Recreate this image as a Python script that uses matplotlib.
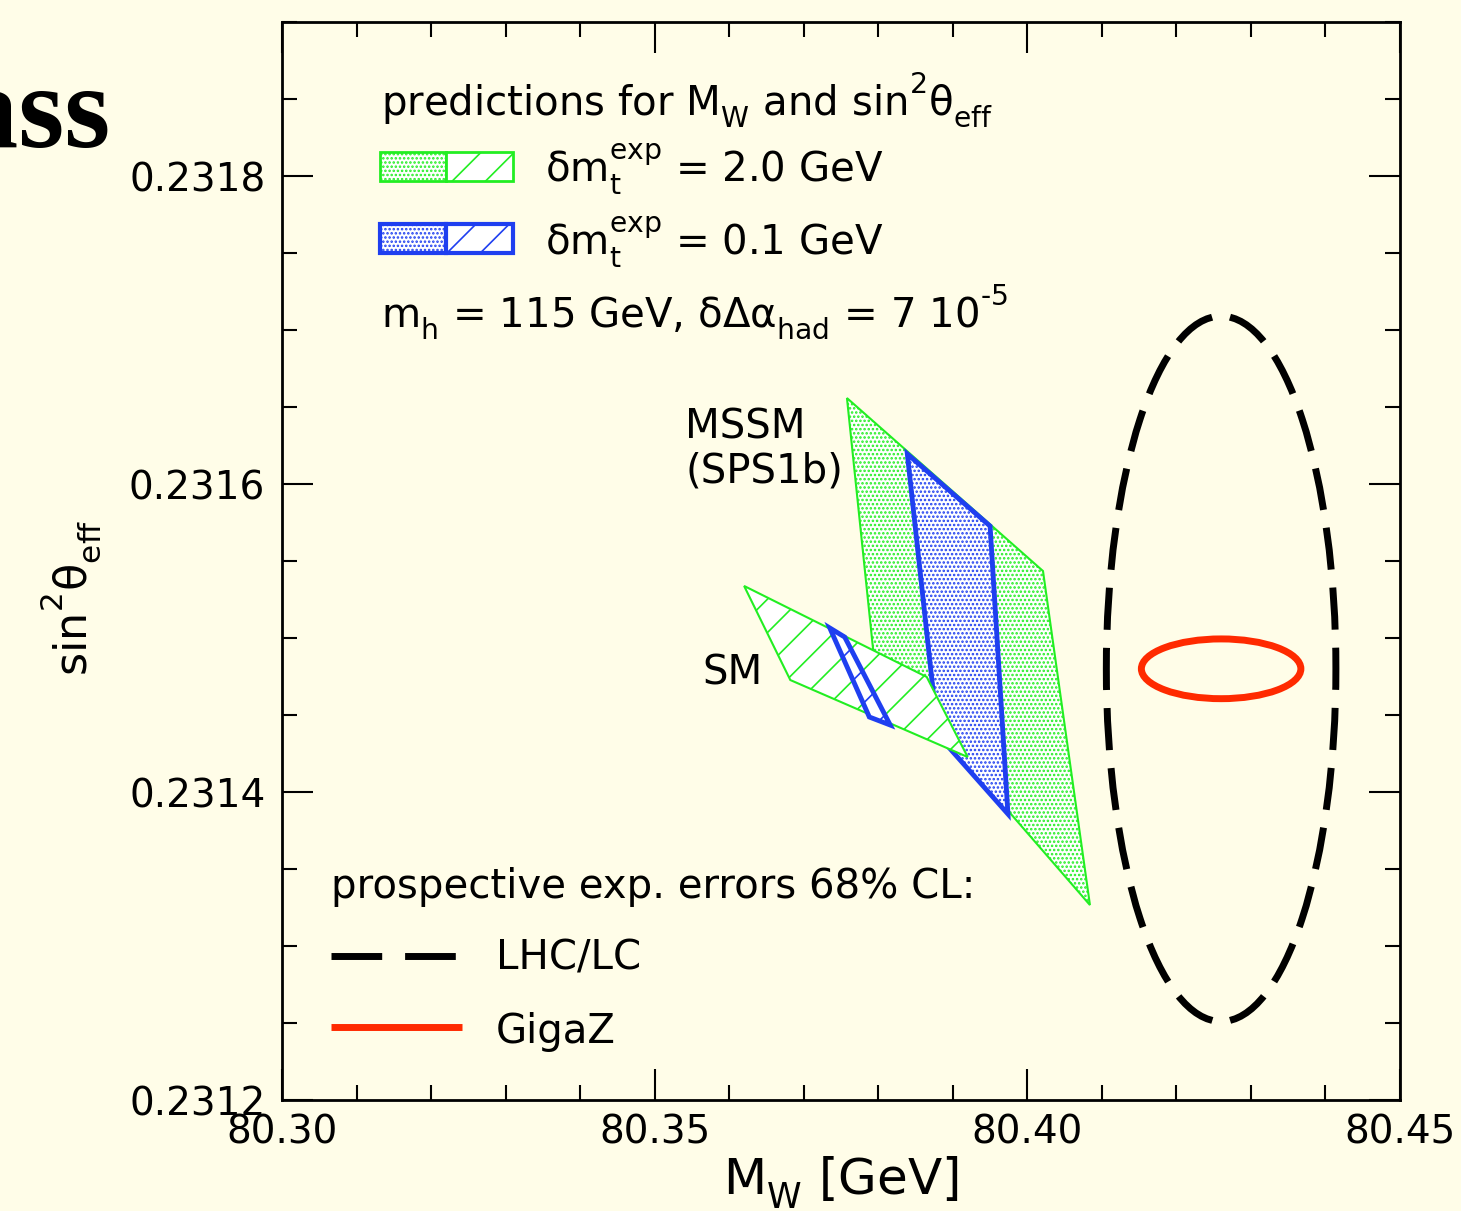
import matplotlib
matplotlib.use('Agg')
import matplotlib.pyplot as plt
from matplotlib.patches import Polygon, Ellipse, Rectangle
from matplotlib.lines import Line2D
from matplotlib.ticker import MultipleLocator, FormatStrFormatter

plt.rcParams['font.family'] = ['DejaVu Sans']
plt.rcParams['mathtext.fontset'] = 'dejavusans'
plt.rcParams['mathtext.default'] = 'regular'
plt.rcParams['hatch.linewidth'] = 1.2

# deeper sub/superscripts, as in the reference typesetting
try:
    from matplotlib import _mathtext as _mt
    _mt.FontConstantsBase.sub1 = 0.55
    _mt.FontConstantsBase.sub2 = 0.6
    _mt.FontConstantsBase.sup1 = 1.0
except Exception:
    pass

# ---------------- data ----------------
mssm_wide_mw = [80.3758, 80.4021, 80.4084, 80.3794]
mssm_wide_s2 = [0.2316558, 0.2315435, 0.2313266, 0.2314883]
mssm_narrow_mw = [80.3839, 80.3950, 80.3974, 80.3880]
mssm_narrow_s2 = [0.2316195, 0.2315727, 0.2313857, 0.2314370]
sm_wide_mw = [80.3620, 80.3865, 80.3920, 80.3682]
sm_wide_s2 = [0.2315338, 0.2314747, 0.2314227, 0.2314727]
sm_narrow_mw = [80.3735, 80.3755, 80.3816, 80.3788]
sm_narrow_s2 = [0.2315065, 0.2315006, 0.2314435, 0.2314487]

ellipse_center_mw = 80.4260
ellipse_center_s2 = 0.23148
lhc_err_mw = 0.0154
lhc_err_s2 = 0.000229
gigaz_err_mw = 0.0107
gigaz_err_s2 = 0.0000194

x_ticks = [80.30, 80.35, 80.40, 80.45]
y_ticks = [0.2312, 0.2314, 0.2316, 0.2318]

# ---------------- style ----------------
BG = '#FFFDE8'
GREEN = '#22EE22'
BLUE = '#1F3FF0'
RED = '#FF2A00'

W, H = 1461, 1211
fig = plt.figure(figsize=(W / 100, H / 100), dpi=100, facecolor=BG)
ax = fig.add_axes([282 / W, 1 - 1100 / H, 1118 / W, 1078 / H], facecolor=BG)
ax.set_xlim(80.30, 80.45)
ax.set_ylim(0.2312, 0.2319)

ax.set_xticks(x_ticks)
ax.set_yticks(y_ticks)
ax.xaxis.set_minor_locator(MultipleLocator(0.01))
ax.yaxis.set_minor_locator(MultipleLocator(0.00005))
ax.xaxis.set_major_formatter(FormatStrFormatter('%.2f'))
ax.yaxis.set_major_formatter(FormatStrFormatter('%.4f'))
ax.tick_params(which='major', direction='in', length=22, width=1.5,
               top=True, right=True, labelsize=28, pad=12)
ax.tick_params(axis='x', which='major', pad=10)
ax.tick_params(which='minor', direction='in', length=11, width=1.5,
               top=True, right=True)
for s in ax.spines.values():
    s.set_linewidth(2)

# ---------------- regions ----------------
ax.add_patch(Polygon(list(zip(mssm_wide_mw, mssm_wide_s2)), closed=True,
                     facecolor='white', edgecolor=GREEN, lw=1.5, hatch='....', zorder=2))
ax.add_patch(Polygon(list(zip(mssm_narrow_mw, mssm_narrow_s2)), closed=True,
                     facecolor='white', edgecolor=BLUE, lw=3.5, hatch='....', zorder=3))
ax.add_patch(Polygon(list(zip(sm_wide_mw, sm_wide_s2)), closed=True,
                     facecolor='white', edgecolor=GREEN, lw=1.5, hatch='/', zorder=4))
ax.add_patch(Polygon(list(zip(sm_narrow_mw, sm_narrow_s2)), closed=True,
                     facecolor='white', edgecolor=BLUE, lw=3.5, hatch='/', zorder=5))

ax.add_patch(Ellipse((ellipse_center_mw, ellipse_center_s2), 2 * lhc_err_mw, 2 * lhc_err_s2,
                     fill=False, edgecolor='black', lw=5, linestyle=(7.37, (6.07, 2.6)),
                     zorder=6))
ax.add_patch(Ellipse((ellipse_center_mw, ellipse_center_s2), 2 * gigaz_err_mw, 2 * gigaz_err_s2,
                     fill=False, edgecolor=RED, lw=5, zorder=6))

# ---------------- legend / annotations ----------------
T = ax.transAxes
fs = 29
ax.text(0.0886, 0.9128, 'predictions for M$_\\mathrm{W}$ and sin$^\\mathrm{2}$θ$_\\mathrm{eff}$',
        transform=T, fontsize=fs, va='baseline', ha='left')

def swatch(y0, y1, color, lw):
    ax.add_patch(Rectangle((0.0877, y0), 0.1467 - 0.0877, y1 - y0, transform=T,
                           facecolor='white', edgecolor=color, lw=lw, hatch='....', zorder=7))
    ax.add_patch(Rectangle((0.1467, y0), 0.2066 - 0.1467, y1 - y0, transform=T,
                           facecolor='white', edgecolor=color, lw=lw, hatch='/', zorder=7))

swatch(0.8525, 0.8794, GREEN, 2.0)
swatch(0.7857, 0.8126, BLUE, 3.0)
ax.text(0.2352, 0.8516, 'δm$_\\mathrm{t}^\\mathrm{exp}$ = 2.0 GeV', transform=T,
        fontsize=fs, va='baseline', ha='left')
ax.text(0.2352, 0.7839, 'δm$_\\mathrm{t}^\\mathrm{exp}$ = 0.1 GeV', transform=T,
        fontsize=fs, va='baseline', ha='left')
ax.text(0.0886, 0.7171, 'm$_\\mathrm{h}$ = 115 GeV, δΔα$_\\mathrm{had}$ = 7 10$^\\mathrm{\u2010 5}$',
        transform=T, fontsize=fs, va='baseline', ha='left')

ax.text(0.3605, 0.6141, 'MSSM', transform=T, fontsize=fs, va='baseline', ha='left')
ax.text(0.3605, 0.5724, '(SPS1b)', transform=T, fontsize=fs, va='baseline', ha='left')
ax.text(0.3757, 0.3850, 'SM', transform=T, fontsize=fs, va='baseline', ha='left')

ax.text(0.0438, 0.1874, 'prospective exp. errors 68% CL:', transform=T,
        fontsize=fs, va='baseline', ha='left')
ax.add_line(Line2D([0.0438, 0.1556], [0.1336, 0.1336], transform=T, color='black',
                   lw=5, dashes=(7.3, 3.3), dash_capstyle='butt'))
ax.text(0.1914, 0.1206, 'LHC/LC', transform=T, fontsize=fs, va='baseline', ha='left')
ax.add_line(Line2D([0.0438, 0.1610], [0.0677, 0.0677], transform=T, color=RED,
                   lw=5, solid_capstyle='butt'))
ax.text(0.1914, 0.0529, 'GigaZ', transform=T, fontsize=fs, va='baseline', ha='left')

# ---------------- axis labels ----------------
ax.text(0.5, -0.0872, 'M$_\\mathrm{W}$ [GeV]', transform=T, fontsize=36,
        va='baseline', ha='center')
ax.text(-0.1735, 0.4657, 'sin$^\\mathrm{2}$θ$_\\mathrm{eff}$', transform=T, fontsize=32,
        rotation=90, rotation_mode='anchor', va='baseline', ha='center')

# slide title fragment at top left
fig.text(110 / W, 1 - 147 / H, 'Mass', ha='right', va='baseline', fontsize=85,
         family=['Liberation Serif', 'DejaVu Serif'], weight='bold')

fig.savefig('out.png', dpi=100, facecolor=BG)
